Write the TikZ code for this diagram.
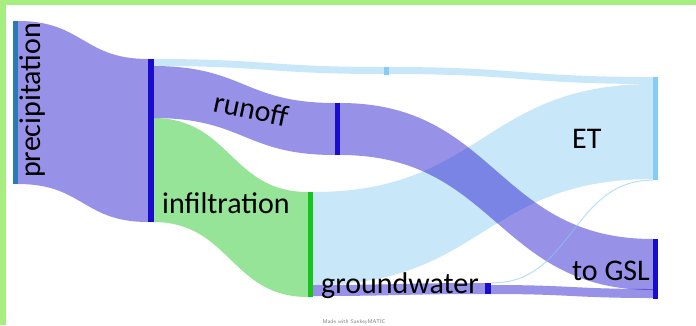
\documentclass[tikz,border=0pt]{standalone}
\usepackage{fontspec}
\setmainfont{Carlito}
\definecolor{barblue}{RGB}{26,12,204}
\definecolor{bargreen}{RGB}{22,196,28}
\definecolor{barlight}{RGB}{134,205,245}
\definecolor{barteal}{RGB}{42,122,180}
\definecolor{framegreen}{RGB}{166,238,128}
\newcommand\sband[7]{\fill[#7, fill opacity=0.45] (#1,#2) .. controls ({(#1+#4)/2},#2) and ({(#1+#4)/2},#5) .. (#4,#5) -- (#4,#6) .. controls ({(#1+#4)/2},#6) and ({(#1+#4)/2},#3) .. (#1,#3) -- cycle;}
\begin{document}
\begin{tikzpicture}[x=1pt,y=-1pt,
  bar/.style={rectangle, inner sep=0pt, draw=none, minimum width=5pt},
  lbl/.style={inner sep=0pt, font=\fontsize{30}{36}\selectfont, text=black}]
\useasboundingbox (0,0) rectangle (696,325);
\fill[white] (0,0) rectangle (696,325);
% frame
\fill[framegreen] (0,0) rectangle (696,5);
\fill[framegreen] (0,0) rectangle (6,325);
% flows (light blue first)
\sband{153}{59}{66}{384}{67}{74}{barlight}
\sband{389}{67}{74}{653}{77}{84}{barlight}
\sband{313}{192}{285}{653}{84}{179}{barlight}
\sband{153}{118}{222}{308}{192}{297}{bargreen}
\sband{18}{21}{184}{148}{59}{222}{barblue}
\sband{153}{66}{118}{335}{103}{155}{barblue}
\sband{340}{103}{155}{653}{239}{290}{barblue}
\sband{313}{285}{296}{485}{283}{294}{barblue}
\sband{491}{285}{294}{653}{289}{298}{barblue}
% nodes
\node[bar, fill=barteal, minimum height=163pt] (precip) at (15.5,102.5) {};
\node[bar, fill=barblue, minimum width=6pt, minimum height=163pt] (hub) at (151,140.5) {};
\node[bar, fill=barblue, minimum height=52pt] (runoff) at (337.5,129) {};
\node[bar, fill=bargreen, minimum height=105pt] (infil) at (310.5,244.5) {};
\node[bar, fill=barlight, minimum height=8pt] (tiny) at (386.5,71) {};
\node[bar, fill=barblue, minimum width=6pt, minimum height=11pt] (gw) at (488,288.5) {};
\node[bar, fill=barlight, minimum height=103pt] (et) at (655.5,128.5) {};
\node[bar, fill=barblue, minimum height=60pt] (gsl) at (655.5,269) {};
% thin groundwater -> ET
\draw[barlight, opacity=0.6, line width=1pt] (gw.north east) .. controls (572,284.5) and (572,179.5) .. (et.south west);
% labels
\node[lbl, rotate=90, anchor=base west] (tprec) at (40,178) {precipitation};
\node[lbl, rotate=-12, anchor=base west] (trun) at (212,111) {runoff};
\node[lbl, anchor=base west] (tinf) at (162,213) {infiltration};
\node[lbl, anchor=base west] (tgw) at (321,293) {groundwater};
\node[lbl, anchor=base west] (tet) at (572,148) {ET};
\node[lbl, anchor=base west] (tgsl) at (572,280) {to GSL};
\node[inner sep=0pt, font=\sffamily\fontsize{5.5}{6}\selectfont, text=gray] (made) at (354,322) {Made with SankeyMATIC};
\end{tikzpicture}
\end{document}
